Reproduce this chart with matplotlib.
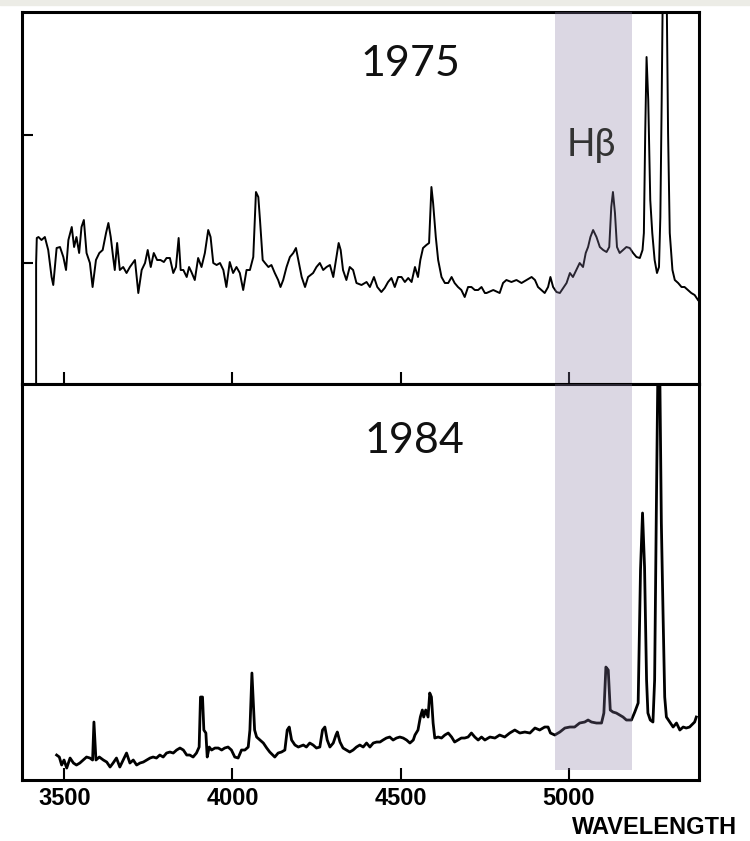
import matplotlib.pyplot as plt
from matplotlib.patches import Rectangle

# 1975 spectrum (wavelength in Angstrom, flux in arbitrary units)
wl_1975 = [3416, 3416, 3418, 3423, 3432, 3442, 3452, 3462, 3467, 3477, 3487, 3497, 3505, 3512, 3522,
           3529, 3536, 3544, 3551, 3558, 3566, 3576, 3584, 3594, 3604, 3614, 3624, 3631, 3638, 3645,
           3650, 3657, 3665, 3675, 3685, 3695, 3710, 3720, 3730, 3740, 3748, 3757, 3766, 3776, 3786,
           3796, 3804, 3814, 3824, 3832, 3840, 3846, 3854, 3864, 3871, 3878, 3888, 3898, 3908, 3918,
           3928, 3935, 3943, 3953, 3963, 3973, 3982, 3992, 4002, 4012, 4022, 4032, 4042, 4052, 4062,
           4070, 4077, 4082, 4090, 4097, 4107, 4116, 4126, 4136, 4143, 4151, 4161, 4171, 4181, 4189,
           4196, 4206, 4216, 4225, 4240, 4250, 4260, 4270, 4280, 4290, 4300, 4308, 4316, 4322, 4329,
           4339, 4349, 4359, 4369, 4384, 4399, 4409, 4421, 4431, 4443, 4453, 4463, 4473, 4483, 4493,
           4503, 4513, 4523, 4533, 4543, 4552, 4559, 4567, 4577, 4585, 4592, 4597, 4605, 4612, 4622,
           4632, 4642, 4652, 4661, 4671, 4681, 4691, 4701, 4711, 4721, 4731, 4741, 4751, 4756, 4776,
           4795, 4805, 4815, 4830, 4845, 4860, 4875, 4890, 4900, 4909, 4919, 4929, 4939, 4946, 4954,
           4964, 4974, 4984, 4994, 5004, 5013, 5023, 5033, 5043, 5051, 5058, 5065, 5073, 5083, 5093,
           5103, 5113, 5121, 5127, 5132, 5138, 5144, 5152, 5162, 5172, 5182, 5192, 5202, 5212, 5220,
           5224, 5228, 5232, 5237, 5243, 5249, 5256, 5263, 5269, 5273, 5277, 5281, 5291, 5296, 5301,
           5309, 5316, 5326, 5336, 5345, 5355, 5365, 5375, 5385]
flux_1975 = [0, 121, 146, 147, 144, 147, 134, 107, 99, 136, 137, 127, 114, 144, 157,
             137, 147, 131, 157, 164, 131, 121, 97, 124, 131, 134, 151, 161, 147, 127,
             114, 141, 114, 117, 111, 117, 124, 91, 114, 121, 134, 117, 131, 124, 124,
             122, 126, 126, 111, 117, 146, 114, 114, 107, 117, 112, 104, 126, 117, 131,
             154, 147, 121, 119, 121, 114, 97, 122, 111, 117, 111, 94, 114, 114, 127,
             192, 187, 164, 124, 121, 117, 119, 111, 104, 97, 104, 117, 127, 131, 136,
             124, 107, 97, 107, 111, 117, 121, 114, 117, 119, 107, 124, 141, 134, 114,
             104, 117, 114, 101, 99, 102, 97, 107, 97, 92, 96, 102, 106, 97, 107,
             107, 102, 106, 102, 117, 107, 124, 136, 139, 141, 197, 181, 147, 124, 107,
             101, 101, 107, 101, 97, 94, 87, 97, 97, 94, 94, 97, 91, 91, 94,
             91, 101, 104, 102, 104, 101, 104, 107, 104, 97, 94, 91, 97, 107, 97,
             92, 91, 96, 101, 111, 107, 114, 121, 117, 131, 137, 147, 154, 147, 137,
             134, 132, 137, 177, 192, 171, 137, 131, 134, 137, 136, 131, 127, 126, 134,
             151, 251, 327, 284, 184, 151, 124, 111, 117, 167, 284, 420, 420, 251, 151,
             114, 104, 101, 97, 97, 94, 91, 89, 84]

# 1984 spectrum
wl_1984 = [3477, 3485, 3492, 3499, 3507, 3517, 3527, 3536, 3546, 3556, 3566, 3576, 3584, 3588, 3594,
           3604, 3616, 3626, 3636, 3645, 3655, 3665, 3675, 3685, 3695, 3705, 3715, 3725, 3735, 3745,
           3755, 3764, 3774, 3784, 3794, 3804, 3814, 3824, 3834, 3844, 3854, 3864, 3873, 3883, 3893,
           3901, 3905, 3911, 3915, 3921, 3925, 3931, 3938, 3948, 3958, 3968, 3977, 3987, 3997, 4007,
           4017, 4027, 4037, 4047, 4052, 4058, 4066, 4072, 4082, 4092, 4102, 4111, 4126, 4136, 4146,
           4156, 4163, 4169, 4176, 4186, 4196, 4211, 4220, 4230, 4240, 4250, 4260, 4268, 4275, 4282,
           4290, 4300, 4308, 4312, 4320, 4329, 4339, 4349, 4359, 4369, 4379, 4389, 4399, 4409, 4419,
           4429, 4439, 4448, 4458, 4468, 4478, 4488, 4498, 4508, 4518, 4528, 4538, 4543, 4552, 4559,
           4565, 4569, 4575, 4582, 4587, 4592, 4597, 4602, 4612, 4622, 4632, 4642, 4652, 4661, 4671,
           4681, 4691, 4701, 4711, 4721, 4731, 4741, 4751, 4766, 4781, 4795, 4810, 4825, 4840, 4855,
           4870, 4885, 4900, 4914, 4929, 4939, 4946, 4959, 4974, 4989, 5004, 5018, 5033, 5048, 5058,
           5068, 5083, 5098, 5105, 5111, 5118, 5124, 5132, 5142, 5152, 5162, 5172, 5187, 5197, 5207,
           5214, 5220, 5226, 5232, 5236, 5243, 5251, 5256, 5261, 5266, 5271, 5276, 5281, 5286, 5291,
           5301, 5311, 5321, 5331, 5341, 5350, 5360, 5375, 5380]
flux_1984 = [25, 23, 15, 20, 12, 22, 17, 15, 17, 20, 23, 22, 20, 58, 20,
             23, 20, 18, 13, 17, 22, 13, 20, 27, 17, 20, 15, 17, 18, 20,
             22, 23, 22, 25, 23, 27, 28, 27, 30, 32, 30, 25, 25, 23, 27,
             33, 83, 83, 50, 47, 23, 33, 30, 32, 32, 30, 32, 33, 30, 23,
             22, 30, 30, 33, 50, 107, 50, 43, 40, 37, 32, 28, 23, 27, 28,
             30, 50, 53, 40, 35, 33, 35, 33, 37, 35, 32, 33, 50, 53, 40,
             33, 37, 45, 48, 38, 32, 30, 28, 30, 33, 35, 33, 37, 33, 37,
             38, 38, 40, 42, 43, 40, 42, 43, 42, 40, 37, 40, 45, 50, 63,
             70, 63, 70, 63, 87, 83, 57, 42, 43, 42, 45, 47, 43, 38, 40,
             42, 42, 43, 47, 43, 40, 43, 40, 43, 42, 45, 43, 47, 50, 47,
             48, 47, 52, 50, 53, 53, 47, 45, 48, 52, 53, 53, 57, 58, 60,
             58, 57, 57, 67, 113, 110, 70, 68, 67, 65, 63, 60, 60, 68, 77,
             210, 267, 213, 100, 67, 60, 58, 100, 267, 420, 420, 257, 167, 83, 63,
             58, 53, 57, 50, 53, 52, 53, 58, 63]

xticks = [3500, 4000, 4500, 5000]
hbeta_band = (4960, 5189)
years = ["1975", "1984"]

fig = plt.figure(figsize=(7.5, 8.41), dpi=100)
fig.patches.append(Rectangle((0, 0.994), 1, 0.006, transform=fig.transFigure,
                             color="#ecece6", zorder=0))

ax1 = fig.add_axes([22 / 750, 0.5434, 677 / 750, 0.4423])
ax2 = fig.add_axes([22 / 750, 0.0725, 677 / 750, 0.4709])

ax1.plot(wl_1975, flux_1975, color="black", lw=1.4)
ax2.plot(wl_1984, flux_1984, color="black", lw=2.0)

for ax, top in [(ax1, 372), (ax2, 396)]:
    ax.set_xlim(3374, 5388)
    ax.set_ylim(0, top)
    for s in ax.spines.values():
        s.set_linewidth(2.2)
    ax.set_xticks(xticks)

ax1.axvspan(*hbeta_band, color="#8a7da5", alpha=0.3, lw=0, zorder=4)
ax2.axvspan(*hbeta_band, ymin=0.025, color="#8a7da5", alpha=0.3, lw=0, zorder=4)

ax1.set_yticks([121, 249])
ax1.set_yticklabels([])
ax1.set_xticklabels([])
ax1.tick_params(axis="y", direction="in", length=8, width=1.5)
ax1.tick_params(axis="x", direction="inout", length=18, width=1.5)

ax2.set_yticks([])
ax2.tick_params(axis="x", direction="in", length=9, width=1.5, pad=5)
for lab in ax2.get_xticklabels():
    lab.set_fontfamily("Liberation Sans")
    lab.set_fontweight("bold")
    lab.set_fontsize(17)

big = ["Lato", "Open Sans", "DejaVu Sans"]
fig.text(0.547, 0.9096, years[0], ha="center", va="baseline", fontsize=31, family=big, color="#111111")
fig.text(0.553, 0.4614, years[1], ha="center", va="baseline", fontsize=31, family=big, color="#111111")
fig.text(0.788, 0.8145, "Hβ", ha="center", va="baseline", fontsize=27, family=big, color="#333333")
fig.text(0.873, 0.0155, "WAVELENGTH", ha="center", va="center", fontsize=17,
         family="Liberation Sans", fontweight="bold")

fig.savefig("out.png", dpi=100)
plt.close(fig)
